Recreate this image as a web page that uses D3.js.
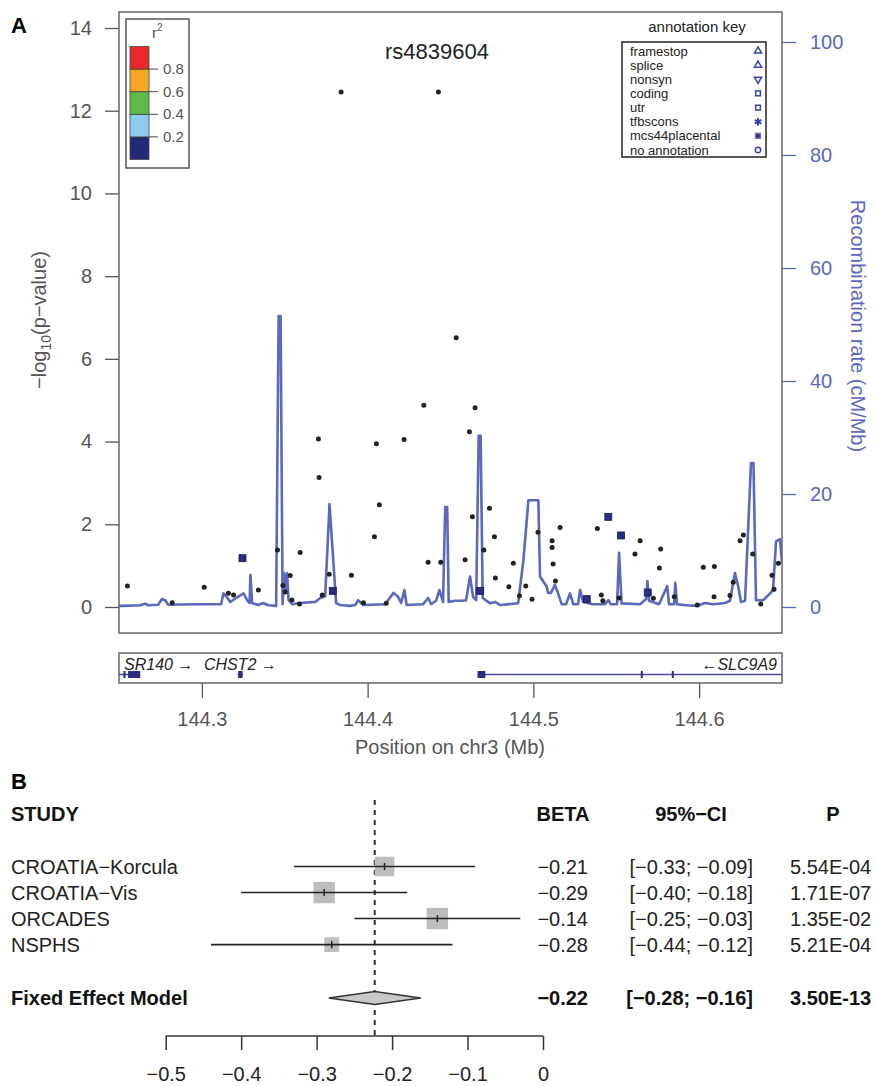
<!DOCTYPE html>
<html>
<head>
<meta charset="utf-8">
<script src="https://cdn.jsdelivr.net/npm/d3@7"></script>
<style>
  body { margin: 0; background: #fff; }
  text { font-family: "Liberation Sans", Arial, Helvetica, sans-serif; }
</style>
</head>
<body>
<svg id="chart" width="876" height="1086"></svg>
<script>
// ---------- Panel A data ----------
// SNP positions (Mb on chr3) and -log10(p)
const snpPos = [144.2551, 144.2821, 144.3014, 144.3160, 144.3191, 144.3245, 144.3341, 144.3456, 144.3489, 144.3502,
  144.3533, 144.3543, 144.3593, 144.3589, 144.3703, 144.3707, 144.3726, 144.3768, 144.3790, 144.3840,
  144.3902, 144.3975, 144.4041, 144.4053, 144.4071, 144.4112, 144.4220, 144.4339, 144.4365, 144.4427,
  144.4441, 144.4534, 144.4588, 144.4614, 144.4632, 144.4648, 144.4679, 144.4701, 144.4735, 144.4765,
  144.4771, 144.4852, 144.4879, 144.4916, 144.4954, 144.4992, 144.5028, 144.5113, 144.5113, 144.5119,
  144.5133, 144.5161, 144.5322, 144.5386, 144.5410, 144.5419, 144.5452, 144.5517, 144.5529, 144.5613,
  144.5644, 144.5690, 144.5724, 144.5760, 144.5768, 144.5850, 144.5989, 144.6025, 144.6090, 144.6092,
  144.6186, 144.6206, 144.6247, 144.6267, 144.6323, 144.6372, 144.6440, 144.6452, 144.6478];
const snpLogP = [0.51, 0.10, 0.48, 0.33, 0.29, 1.18, 0.41, 1.38, 0.52, 0.36,
  0.76, 0.17, 1.32, 0.07, 4.06, 3.13, 0.29, 0.79, 0.39, 12.45,
  0.77, 0.10, 1.70, 3.95, 2.47, 0.09, 4.05, 4.88, 1.08, 12.45,
  1.08, 6.51, 1.14, 4.24, 2.18, 4.82, 0.39, 1.38, 2.39, 1.70,
  0.70, 0.49, 1.06, 0.27, 0.51, 0.19, 1.81, 1.60, 1.44, 1.04,
  0.63, 1.92, 0.19, 1.90, 0.29, 0.15, 2.18, 0.22, 1.73, 1.28,
  1.60, 0.35, 0.21, 0.94, 1.40, 0.25, 0.05, 0.96, 0.25, 0.98,
  0.28, 0.60, 1.60, 1.74, 1.28, 0.07, 0.77, 0.43, 1.06];
// n = no annotation, m = mcs44placental
const snpAnnot = ['n','n','n','n','n','m','n','n','n','n',
  'n','n','n','n','n','n','n','n','m','n',
  'n','n','n','n','n','n','n','n','n','n',
  'n','n','n','n','n','n','m','n','n','n',
  'n','n','n','n','n','n','n','n','n','n',
  'n','n','m','n','n','n','m','n','m','n',
  'n','m','n','n','n','n','n','n','n','n',
  'n','n','n','n','n','n','n','n','n'];

// Recombination rate (cM/Mb)
const recombPos = [144.2500, 144.2523, 144.2628, 144.2658, 144.2676, 144.2736, 144.2759, 144.2779, 144.2797, 144.2966,
  144.3116, 144.3130, 144.3147, 144.3171, 144.3207, 144.3251, 144.3273, 144.3288, 144.3293, 144.3303,
  144.3340, 144.3370, 144.3400, 144.3448, 144.3463, 144.3475, 144.3487, 144.3496, 144.3505, 144.3514,
  144.3523, 144.3545, 144.3593, 144.3684, 144.3714, 144.3744, 144.3770, 144.3810, 144.3834, 144.3894,
  144.3925, 144.3943, 144.3973, 144.4106, 144.4156, 144.4184, 144.4202, 144.4222, 144.4235, 144.4335,
  144.4365, 144.4383, 144.4413, 144.4433, 144.4455, 144.4468, 144.4480, 144.4489, 144.4528, 144.4570,
  144.4594, 144.4618, 144.4636, 144.4655, 144.4670, 144.4682, 144.4694, 144.4739, 144.4769, 144.4800,
  144.4908, 144.4940, 144.4970, 144.5030, 144.5040, 144.5081, 144.5088, 144.5106, 144.5130, 144.5148,
  144.5171, 144.5197, 144.5221, 144.5241, 144.5270, 144.5282, 144.5300, 144.5360, 144.5432, 144.5452,
  144.5468, 144.5505, 144.5517, 144.5532, 144.5644, 144.5680, 144.5688, 144.5698, 144.5758, 144.5808,
  144.5818, 144.5849, 144.5856, 144.5867, 144.5921, 144.5987, 144.6036, 144.6084, 144.6156, 144.6186,
  144.6216, 144.6234, 144.6253, 144.6277, 144.6313, 144.6328, 144.6343, 144.6386, 144.6428, 144.6446,
  144.6464, 144.6488, 144.6500];
const recombRate = [0.2, 0.2, 0.3, 0.6, 0.3, 0.4, 1.4, 1.2, 0.4, 0.5,
  0.5, 2.4, 1.9, 0.9, 1.6, 2.4, 1.2, 0.7, 5.7, 0.7,
  0.35, 0.7, 0.3, 0.2, 51.5, 51.5, 0.5, 6.0, 3.0, 6.0,
  1.2, 0.5, 0.7, 0.9, 1.6, 1.9, 18.2, 0.7, 0.35, 0.2,
  0.35, 1.2, 0.35, 0.5, 2.5, 1.8, 0.7, 3.0, 0.35, 0.5,
  1.6, 0.5, 1.1, 3.0, 0.9, 17.7, 17.7, 0.9, 1.1, 1.1,
  1.2, 5.4, 1.8, 1.2, 30.3, 30.3, 1.6, 0.65, 0.9, 0.35,
  0.65, 8.3, 18.9, 18.9, 5.4, 3.6, 2.5, 2.5, 3.9, 2.5,
  0.5, 0.5, 2.4, 0.5, 0.5, 3.0, 0.9, 0.5, 0.5, 1.2,
  0.5, 0.5, 9.6, 0.65, 0.5, 1.4, 4.6, 1.1, 0.5, 3.7,
  0.5, 0.5, 4.3, 0.5, 0.3, 0.2, 0.7, 0.5, 0.7, 1.1,
  6.0, 3.9, 0.9, 1.1, 25.5, 25.5, 1.2, 1.2, 2.4, 3.0,
  11.6, 12.0, 7.8];

const pTicks = [0, 2, 4, 6, 8, 10, 12, 14];
const recombTicks = [0, 20, 40, 60, 80, 100];
const posTicks = [144.3, 144.4, 144.5, 144.6];
const ldBreaks = [0, 0.2, 0.4, 0.6, 0.8, 1];
const ldColors = ['#222a78', '#8ccbee', '#5fb848', '#f5a623', '#e62a2a'];
const annotLabels = ['framestop', 'splice', 'nonsyn', 'coding', 'utr', 'tfbscons', 'mcs44placental', 'no annotation'];

const geneNames = ['SR140', 'CHST2', 'SLC9A9'];
const geneStart = [144.2480, 144.3216, 144.4665];
const geneEnd = [144.2628, 144.3248, 144.8700];
const geneStrand = ['+', '+', '-'];
const geneExons = [
  [[144.2527, 144.2533], [144.2555, 144.2628]],
  [[144.3219, 144.3246]],
  [[144.4663, 144.4710], [144.5648, 144.5654], [144.5835, 144.5841]]
];

// ---------- Panel B data ----------
const studyNames = ['CROATIA\u2212Korcula', 'CROATIA\u2212Vis', 'ORCADES', 'NSPHS'];
const studyBeta = [-0.21, -0.29, -0.14, -0.28];
const studyLower = [-0.33, -0.40, -0.25, -0.44];
const studyUpper = [-0.09, -0.18, -0.03, -0.12];
const studyP = ['5.54E-04', '1.71E-07', '1.35E-02', '5.21E-04'];
const fixedBeta = -0.223, fixedLower = -0.284, fixedUpper = -0.162, fixedP = '3.50E-13';
const betaTicks = [-0.5, -0.4, -0.3, -0.2, -0.1, 0];

// ---------- drawing ----------
const svg = d3.select('#chart');
const GREY = '#555';
const BLUE = '#5a68bd';
const NAVY = '#2a2d80';
const f2 = d3.format('.2f');

svg.append('rect').attr('width', 876).attr('height', 1086).attr('fill', '#fff');

// Panel A scales
const x = d3.scaleLinear().domain([144.25, 144.65]).range([119, 782]);
const yP = d3.scaleLinear().domain([0, 14]).range([607, 28]);
const yR = d3.scaleLinear().domain([0, 100]).range([607, 42]);

svg.append('defs').append('clipPath').attr('id', 'plotclip')
  .append('rect').attr('x', 119).attr('y', 12).attr('width', 663).attr('height', 621);

// panel letters
svg.append('text').attr('x', 11).attr('y', 33).attr('font-size', 22).attr('font-weight', 'bold').text('A');
svg.append('text').attr('x', 11).attr('y', 789).attr('font-size', 22).attr('font-weight', 'bold').text('B');

// left axis
svg.append('g').attr('transform', 'translate(119,0)')
  .call(d3.axisLeft(yP).tickValues(pTicks).tickSize(14).tickPadding(13).tickFormat(d3.format('d')))
  .attr('font-size', 20).attr('font-family', null)
  .call(g => g.select('.domain').remove())
  .call(g => g.selectAll('line').attr('stroke', GREY).attr('stroke-width', 1.3))
  .call(g => g.selectAll('text').attr('fill', GREY));

// right axis
svg.append('g').attr('transform', 'translate(782,0)')
  .call(d3.axisRight(yR).tickValues(recombTicks).tickSize(14).tickPadding(14))
  .attr('font-size', 20).attr('font-family', null)
  .call(g => g.select('.domain').remove())
  .call(g => g.selectAll('line').attr('stroke', BLUE).attr('stroke-width', 1.3))
  .call(g => g.selectAll('text').attr('fill', BLUE));

// axis titles
const yTitle = svg.append('text').attr('transform', 'translate(46,320) rotate(-90)')
  .attr('text-anchor', 'middle').attr('font-size', 20).attr('fill', GREY);
yTitle.append('tspan').text('\u2212log');
yTitle.append('tspan').attr('font-size', 14).attr('dy', 5).text('10');
yTitle.append('tspan').attr('dy', -5).text('(p\u2212value)');

svg.append('text').attr('transform', 'translate(851,326) rotate(90)')
  .attr('text-anchor', 'middle').attr('font-size', 20).attr('fill', BLUE)
  .text('Recombination rate (cM/Mb)');

// recombination line
const plot = svg.append('g').attr('clip-path', 'url(#plotclip)');
const recombData = recombPos.map((p, i) => ({ pos: p, rate: recombRate[i] }));
plot.append('path').datum(recombData)
  .attr('fill', 'none').attr('stroke', BLUE).attr('stroke-width', 2.6).attr('stroke-linejoin', 'round')
  .attr('d', d3.line().x(d => x(d.pos)).y(d => yR(d.rate)));

// SNPs
const snps = snpPos.map((p, i) => ({ pos: p, logp: snpLogP[i], annot: snpAnnot[i] }));
plot.selectAll('circle.snp').data(snps.filter(d => d.annot === 'n')).join('circle')
  .attr('class', 'snp')
  .attr('cx', d => x(d.pos)).attr('cy', d => yP(d.logp)).attr('r', 2.5)
  .attr('fill', '#222');
plot.selectAll('rect.snp').data(snps.filter(d => d.annot === 'm')).join('rect')
  .attr('class', 'snp')
  .attr('x', d => x(d.pos) - 3.5).attr('y', d => yP(d.logp) - 3.5)
  .attr('width', 7).attr('height', 7)
  .attr('fill', NAVY).attr('stroke', '#1a1a50').attr('stroke-width', 0.8);

// plot frame
svg.append('rect').attr('x', 119).attr('y', 12).attr('width', 663).attr('height', 621)
  .attr('fill', 'none').attr('stroke', '#666').attr('stroke-width', 1.5);

// title
svg.append('text').attr('x', 437).attr('y', 59).attr('text-anchor', 'middle')
  .attr('font-size', 22).attr('fill', '#222').text('rs4839604');

// r^2 legend
const ldY = d3.scaleLinear().domain([0, 1]).range([159.5, 46.5]);
const ld = svg.append('g');
ld.append('rect').attr('x', 126).attr('y', 19).attr('width', 63).attr('height', 149)
  .attr('fill', '#fff').attr('stroke', '#555').attr('stroke-width', 1.5);
const r2 = ld.append('text').attr('x', 152).attr('y', 38).attr('font-size', 15).attr('fill', GREY);
r2.append('tspan').text('r');
r2.append('tspan').attr('font-size', 10).attr('dy', -7).text('2');
ld.selectAll('rect.bin').data(ldColors).join('rect').attr('class', 'bin')
  .attr('x', 130).attr('width', 19)
  .attr('y', (c, i) => ldY(ldBreaks[i + 1]))
  .attr('height', (c, i) => ldY(ldBreaks[i]) - ldY(ldBreaks[i + 1]))
  .attr('fill', c => c).attr('stroke', '#444').attr('stroke-width', 0.8);
const ldLab = ldBreaks.slice(1, -1);
ld.selectAll('line.tk').data(ldLab).join('line').attr('class', 'tk')
  .attr('x1', 149).attr('x2', 158).attr('y1', d => ldY(d)).attr('y2', d => ldY(d))
  .attr('stroke', '#444').attr('stroke-width', 1);
ld.selectAll('text.tk').data(ldLab).join('text').attr('class', 'tk')
  .attr('x', 163).attr('y', d => ldY(d) + 5).attr('font-size', 15).attr('fill', GREY)
  .text(d3.format('.1f'));

// annotation key
const ak = svg.append('g');
ak.append('text').attr('x', 697).attr('y', 32).attr('text-anchor', 'middle')
  .attr('font-size', 15).attr('fill', '#222').text('annotation key');
ak.append('rect').attr('x', 622).attr('y', 42).attr('width', 144).attr('height', 115)
  .attr('fill', '#fff').attr('stroke', '#222').attr('stroke-width', 1.5);
const akY = d3.scalePoint().domain(annotLabels).range([51, 150]);
ak.selectAll('text.lab').data(annotLabels).join('text').attr('class', 'lab')
  .attr('x', 630).attr('y', d => akY(d) + 4.5).attr('font-size', 13).attr('fill', '#222').text(d => d);
const symType = {
  framestop: d3.symbolTriangle, splice: d3.symbolTriangle, nonsyn: d3.symbolTriangle,
  coding: d3.symbolSquare, utr: d3.symbolSquare, tfbscons: d3.symbolAsterisk,
  mcs44placental: d3.symbolSquare, 'no annotation': d3.symbolCircle
};
ak.selectAll('path.sym').data(annotLabels).join('path').attr('class', 'sym')
  .attr('transform', d => `translate(758,${akY(d)}) rotate(${d === 'nonsyn' ? 180 : 0})`)
  .attr('d', d => d3.symbol(symType[d], d === 'tfbscons' ? 40 : 22)())
  .attr('fill', d => d === 'mcs44placental' ? NAVY : 'none')
  .attr('stroke', d => d === 'mcs44placental' ? '#6a6ab0' : '#3644a8')
  .attr('stroke-width', d => d === 'tfbscons' ? 2 : 1.5);

// gene track
const gt = svg.append('g');
gt.append('defs').append('clipPath').attr('id', 'geneclip')
  .append('rect').attr('x', 119).attr('y', 653).attr('width', 663).attr('height', 30);
gt.append('rect').attr('x', 119).attr('y', 653).attr('width', 663).attr('height', 30)
  .attr('fill', '#fff').attr('stroke', '#666').attr('stroke-width', 1.5);
const gene = gt.append('g').attr('clip-path', 'url(#geneclip)');
const genes = geneNames.map((n, i) => ({ name: n, start: geneStart[i], end: geneEnd[i], strand: geneStrand[i], exons: geneExons[i] }));
const geneY = 674.5;
gene.selectAll('line.gene').data(genes).join('line').attr('class', 'gene')
  .attr('x1', d => x(d.start)).attr('x2', d => x(d.end)).attr('y1', geneY).attr('y2', geneY)
  .attr('stroke', '#4a4aa0').attr('stroke-width', 1.6);
gene.selectAll('rect.exon').data(genes.flatMap(g => g.exons)).join('rect').attr('class', 'exon')
  .attr('x', d => x(d[0])).attr('width', d => Math.max(2, x(d[1]) - x(d[0])))
  .attr('y', geneY - 3.5).attr('height', 7).attr('fill', NAVY);
genes.forEach(g => {
  const label = g.strand === '+' ? `${g.name} \u2192` : `\u2190${g.name}`;
  const t = gt.append('text').attr('y', 670).attr('font-size', 16).attr('font-style', 'italic')
    .attr('fill', '#222').attr('text-anchor', 'middle').text(label);
  const w = t.node().getComputedTextLength();
  let cx = x((g.start + g.end) / 2);
  cx = Math.max(124 + w / 2, Math.min(777 - w / 2, cx));
  t.attr('x', cx);
});

// position axis
svg.append('g').attr('transform', 'translate(0,683)')
  .call(d3.axisBottom(x).tickValues(posTicks).tickSize(15).tickPadding(14).tickFormat(d3.format('.1f')))
  .attr('font-size', 20).attr('font-family', null)
  .call(g => g.select('.domain').remove())
  .call(g => g.selectAll('line').attr('stroke', GREY).attr('stroke-width', 1.3))
  .call(g => g.selectAll('text').attr('fill', GREY));
svg.append('text').attr('x', 450).attr('y', 754).attr('text-anchor', 'middle')
  .attr('font-size', 20).attr('fill', GREY).text('Position on chr3 (Mb)');

// ---------- Panel B: forest plot ----------
const xf = d3.scaleLinear().domain([-0.5, 0]).range([165.7, 543]);
const rowY = d3.scalePoint().domain(studyNames).range([866.5, 944.6]);
const fixedY = 998;
const weights = studyLower.map((lo, i) => 1 / Math.pow((studyUpper[i] - lo) / 3.92, 2));
const boxSize = d3.scaleSqrt().domain([0, 1]).range([0, 1.2]);
const fp = svg.append('g');
const studies = studyNames.map((n, i) => ({ name: n, beta: studyBeta[i], lo: studyLower[i], hi: studyUpper[i], p: studyP[i], w: weights[i] }));

// headers
fp.append('text').attr('x', 11).attr('y', 821).attr('font-size', 20).attr('font-weight', 'bold').attr('fill', '#111').text('STUDY');
fp.append('text').attr('x', 563).attr('y', 821).attr('text-anchor', 'middle').attr('font-size', 20).attr('font-weight', 'bold').attr('fill', '#111').text('BETA');
fp.append('text').attr('x', 691).attr('y', 821).attr('text-anchor', 'middle').attr('font-size', 20).attr('font-weight', 'bold').attr('fill', '#111').text('95%\u2212CI');
fp.append('text').attr('x', 833).attr('y', 821).attr('text-anchor', 'middle').attr('font-size', 20).attr('font-weight', 'bold').attr('fill', '#111').text('P');

// dashed fixed-effect line
fp.append('line').attr('x1', xf(fixedBeta)).attr('x2', xf(fixedBeta)).attr('y1', 800).attr('y2', 1036)
  .attr('stroke', '#333').attr('stroke-width', 2).attr('stroke-dasharray', '5,5');

const rows = fp.selectAll('g.row').data(studies).join('g').attr('class', 'row')
  .attr('transform', d => `translate(0,${rowY(d.name)})`);
rows.append('rect')
  .attr('x', d => xf(d.beta) - boxSize(d.w) / 2).attr('y', d => -boxSize(d.w) / 2)
  .attr('width', d => boxSize(d.w)).attr('height', d => boxSize(d.w)).attr('fill', '#bdbdbd');
rows.append('line').attr('x1', d => xf(d.lo)).attr('x2', d => xf(d.hi)).attr('y1', 0).attr('y2', 0)
  .attr('stroke', '#222').attr('stroke-width', 1.6);
rows.append('line').attr('x1', d => xf(d.beta)).attr('x2', d => xf(d.beta)).attr('y1', -3.5).attr('y2', 3.5)
  .attr('stroke', '#222').attr('stroke-width', 1.5);
rows.append('text').attr('x', 11).attr('y', 7).attr('font-size', 20).attr('fill', '#222').text(d => d.name);
rows.append('text').attr('x', 588).attr('y', 7).attr('text-anchor', 'end').attr('font-size', 20).attr('fill', '#222').text(d => f2(d.beta));
rows.append('text').attr('x', 753).attr('y', 7).attr('text-anchor', 'end').attr('font-size', 20).attr('fill', '#222').text(d => `[${f2(d.lo)}; ${f2(d.hi)}]`);
rows.append('text').attr('x', 790).attr('y', 7).attr('font-size', 20).attr('fill', '#222').text(d => d.p);

// fixed effect row
fp.append('path')
  .attr('d', `M${xf(fixedLower)},${fixedY} L${xf(fixedBeta)},${fixedY - 6.5} L${xf(fixedUpper)},${fixedY} L${xf(fixedBeta)},${fixedY + 6.5} Z`)
  .attr('fill', '#c8c8c8').attr('stroke', '#333').attr('stroke-width', 1.5);
fp.append('text').attr('x', 11).attr('y', fixedY + 7).attr('font-size', 20).attr('font-weight', 'bold').attr('fill', '#111').text('Fixed Effect Model');
fp.append('text').attr('x', 588).attr('y', fixedY + 7).attr('text-anchor', 'end').attr('font-size', 20).attr('font-weight', 'bold').attr('fill', '#111').text(f2(fixedBeta));
fp.append('text').attr('x', 753).attr('y', fixedY + 7).attr('text-anchor', 'end').attr('font-size', 20).attr('font-weight', 'bold').attr('fill', '#111').text(`[${f2(fixedLower)}; ${f2(fixedUpper)}]`);
fp.append('text').attr('x', 790).attr('y', fixedY + 7).attr('font-size', 20).attr('font-weight', 'bold').attr('fill', '#111').text(fixedP);

// beta axis
svg.append('g').attr('transform', 'translate(0,1036)')
  .call(d3.axisBottom(xf).tickValues(betaTicks).tickSize(14).tickPadding(17)
    .tickFormat(d => d === 0 ? '0' : d3.format('.1f')(d)))
  .attr('font-size', 20).attr('font-family', null)
  .call(g => g.select('.domain').attr('stroke', '#333').attr('stroke-width', 1.5).attr('d', `M${xf(-0.5)},0H${xf(0)}`))
  .call(g => g.selectAll('line').attr('stroke', '#333').attr('stroke-width', 1.5))
  .call(g => g.selectAll('text').attr('fill', '#222'));
</script>
</body>
</html>
